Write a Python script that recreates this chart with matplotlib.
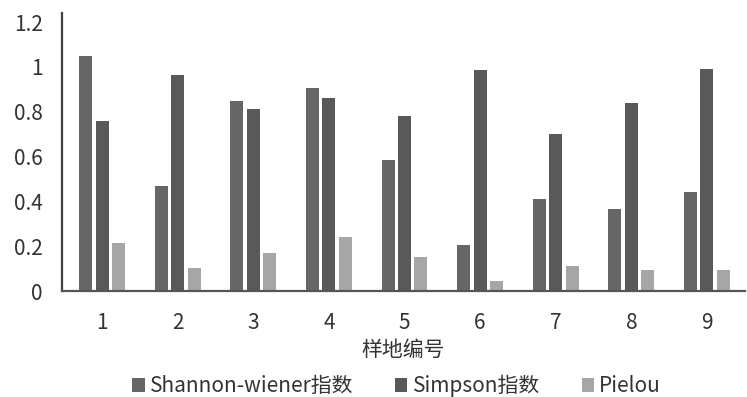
import matplotlib.pyplot as plt
import numpy as np

plt.rcParams['font.family'] = ['Noto Sans CJK SC', 'DejaVu Sans']

sites = ['1', '2', '3', '4', '5', '6', '7', '8', '9']
shannon = [1.048, 0.468, 0.847, 0.905, 0.584, 0.205, 0.41, 0.366, 0.442]
simpson = [0.758, 0.963, 0.812, 0.861, 0.78, 0.986, 0.70, 0.838, 0.99]
pielou = [0.214, 0.103, 0.17, 0.241, 0.152, 0.045, 0.11, 0.094, 0.094]

fig = plt.figure(figsize=(7.47, 3.97), dpi=100)
ax = fig.add_axes([0.083, 0.267, 0.914, 0.70])

x = np.arange(len(sites))
w = 0.172
off = 0.218
ax.bar(x - off, shannon, w, color='#666666', label='Shannon-wiener指数')
ax.bar(x, simpson, w, color='#595959', label='Simpson指数')
ax.bar(x + off, pielou, w, color='#a6a6a6', label='Pielou')

ax.set_xlim(-0.53, 8.5)
ax.set_ylim(0, 1.24)
ax.set_yticks([0, 0.2, 0.4, 0.6, 0.8, 1, 1.2])
ax.set_yticklabels(['0', '0.2', '0.4', '0.6', '0.8', '1', '1.2'])
ax.set_xticks(x)
ax.set_xticklabels(sites)
ax.tick_params(length=0, labelsize=15, colors='#333333', pad=15)
ax.tick_params(axis='y', pad=14)
ax.spines['right'].set_visible(False)
ax.spines['top'].set_visible(False)
ax.spines['left'].set_color('#404040')
ax.spines['left'].set_linewidth(1.6)
ax.spines['bottom'].set_color('#555555')
ax.spines['bottom'].set_linewidth(1.6)
ax.set_xlabel('样地编号', fontsize=15, color='#333333', labelpad=4)

ax.legend(loc='upper center', bbox_to_anchor=(0.49, -0.235), ncol=3, frameon=False,
          fontsize=15, handlelength=0.6, handleheight=0.6, handletextpad=0.25,
          columnspacing=2.0, labelcolor='#333333')

fig.savefig('out.png')
